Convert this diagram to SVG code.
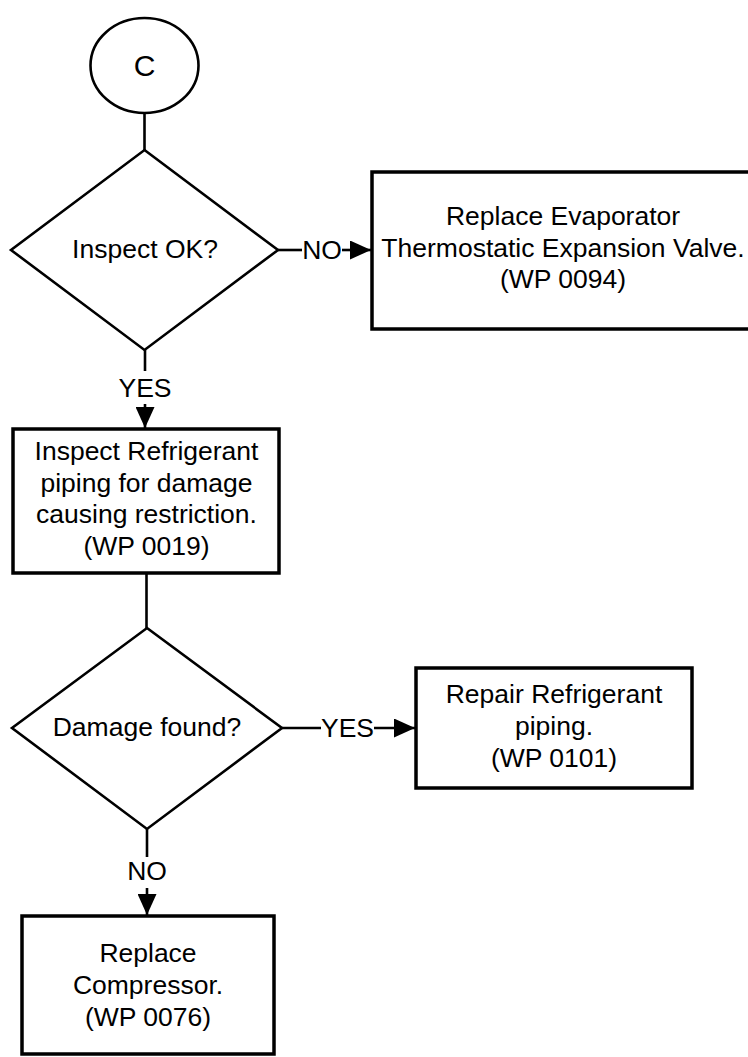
<svg xmlns="http://www.w3.org/2000/svg" width="748" height="1057" viewBox="0 0 748 1057">
  <style>
    .box { fill: #fff; stroke: #000; stroke-width: 3.5; }
    .dec { fill: #fff; stroke: #000; stroke-width: 2.6; }
    .ln { fill: none; stroke: #000; stroke-width: 2.6; }
    .t { font-family: "Liberation Sans", Arial, sans-serif; font-size: 26.5px; fill: #000; text-anchor: middle; }
    .big { font-size: 30px; }
  </style>
  <defs>
    <marker id="arr" markerUnits="userSpaceOnUse" markerWidth="21" markerHeight="19" refX="21" refY="9.5" orient="auto">
      <path d="M0,0 L21,9.5 L0,19 Z" fill="#000"/>
    </marker>
  </defs>
  <rect width="748" height="1057" fill="#fff"/>

  <g id="connectors">
    <line class="ln" x1="144.5" y1="112" x2="144.5" y2="150"/>
    <line class="ln" x1="278" y1="250" x2="302" y2="250"/>
    <line class="ln" x1="342" y1="250" x2="371" y2="250" marker-end="url(#arr)"/>
    <line class="ln" x1="145" y1="350" x2="145" y2="371"/>
    <line class="ln" x1="145" y1="404" x2="145" y2="428" marker-end="url(#arr)"/>
    <line class="ln" x1="146.5" y1="573" x2="146.5" y2="628"/>
    <line class="ln" x1="282" y1="728" x2="321" y2="728"/>
    <line class="ln" x1="374" y1="728" x2="415" y2="728" marker-end="url(#arr)"/>
    <line class="ln" x1="147" y1="829" x2="147" y2="857"/>
    <line class="ln" x1="147" y1="888" x2="147" y2="915" marker-end="url(#arr)"/>
    <text class="t" x="322" y="259">NO</text>
    <text class="t" x="145" y="397">YES</text>
    <text class="t" x="347.5" y="737">YES</text>
    <text class="t" x="147" y="880">NO</text>
  </g>

  <g id="start-c">
    <ellipse cx="144.5" cy="65.5" rx="54" ry="47.5" class="dec"/>
    <text class="t big" x="144.5" y="76">C</text>
  </g>

  <g id="inspect-ok">
    <polygon class="dec" points="144.5,150 278,250 144.5,350 11,250"/>
    <text class="t" x="145" y="258">Inspect OK?</text>
  </g>

  <g id="replace-valve">
    <rect class="box" x="372" y="172" width="386" height="157"/>
    <text class="t" x="563" y="225">Replace Evaporator</text>
    <text class="t" x="563" y="256.5">Thermostatic Expansion Valve.</text>
    <text class="t" x="563" y="288">(WP 0094)</text>
  </g>

  <g id="inspect-piping">
    <rect class="box" x="13" y="429" width="266" height="144"/>
    <text class="t" x="146.5" y="460">Inspect Refrigerant</text>
    <text class="t" x="146.5" y="491.5">piping for damage</text>
    <text class="t" x="146.5" y="523">causing restriction.</text>
    <text class="t" x="146.5" y="554.5">(WP 0019)</text>
  </g>

  <g id="damage-found">
    <polygon class="dec" points="147,628 282,728 147,829 12,728"/>
    <text class="t" x="147" y="736">Damage found?</text>
  </g>

  <g id="repair-piping">
    <rect class="box" x="416" y="668" width="276" height="120"/>
    <text class="t" x="554" y="703">Repair Refrigerant</text>
    <text class="t" x="554" y="735">piping.</text>
    <text class="t" x="554" y="767">(WP 0101)</text>
  </g>

  <g id="replace-compressor">
    <rect class="box" x="22" y="916" width="252" height="138"/>
    <text class="t" x="148" y="962">Replace</text>
    <text class="t" x="148" y="994">Compressor.</text>
    <text class="t" x="148" y="1026">(WP 0076)</text>
  </g>
</svg>
